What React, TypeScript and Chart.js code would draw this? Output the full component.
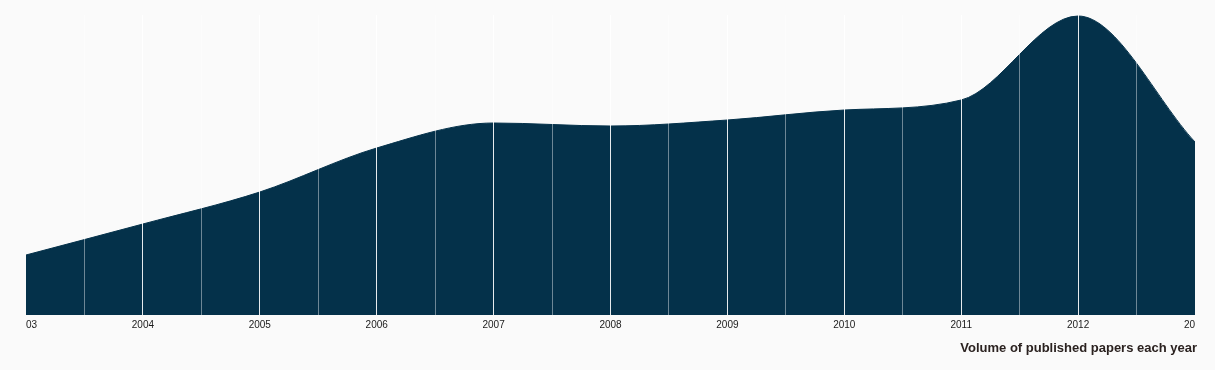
import React, { useEffect, useRef } from "react";
import { Chart, registerables } from "chart.js";

Chart.register(...registerables);

const years = [2003, 2004, 2005, 2006, 2007, 2008, 2009, 2010, 2011, 2012, 2013];
const papers = [60, 91, 123, 167, 192, 189, 195, 205, 215, 299, 173];
const tickYears = [2003, 2004, 2005, 2006, 2007, 2008, 2009, 2010, 2011, 2012, 2013];
const title = "Volume of published papers each year";

const clippedLabels = {
  id: "clippedLabels",
  afterDraw(chart: any) {
    const { ctx, chartArea } = chart;
    const xs = chart.scales.x;
    ctx.save();
    ctx.beginPath();
    ctx.rect(chartArea.left, 0, chartArea.right - chartArea.left, chart.height);
    ctx.clip();
    ctx.font = "10px 'Liberation Sans', Arial, sans-serif";
    ctx.fillStyle = "#1a1a1a";
    ctx.textAlign = "center";
    ctx.textBaseline = "middle";
    tickYears.forEach((y) => {
      ctx.fillText(String(y), xs.getPixelForValue(y), chartArea.bottom + 10);
    });
    ctx.restore();
    ctx.save();
    ctx.font = "bold 13px 'Liberation Sans', Arial, sans-serif";
    ctx.fillStyle = "#2b2220";
    ctx.textAlign = "right";
    ctx.textBaseline = "alphabetic";
    ctx.fillText(title, 1197, 352);
    ctx.restore();
  },
};

export default function App() {
  const ref = useRef<HTMLCanvasElement>(null);
  useEffect(() => {
    document.body.style.margin = "0";
    document.body.style.background = "#fafafa";
    const chart = new Chart(ref.current!, {
      type: "line",
      data: {
        datasets: [
          {
            data: years.map((y, i) => ({ x: y, y: papers[i] })),
            fill: "origin",
            backgroundColor: "#04314a",
            borderColor: "#04314a",
            borderWidth: 1,
            pointRadius: 0,
            cubicInterpolationMode: "monotone",
          },
        ],
      },
      options: {
        animation: false,
        responsive: false,
        events: [],
        layout: { padding: { left: 26, right: 20, top: 15, bottom: 55 } },
        plugins: { legend: { display: false }, tooltip: { enabled: false } },
        scales: {
          x: {
            type: "linear",
            min: 2003,
            max: 2013,
            border: { display: false },
            ticks: { display: false, stepSize: 0.5 },
            grid: {
              z: 1,
              drawTicks: false,
              lineWidth: 1,
              color: (c: any) => {
                const v = c.tick?.value;
                if (v === 2003 || v === 2013) return "rgba(0,0,0,0)";
                return Number.isInteger(v) ? "rgba(255,255,255,0.9)" : "rgba(255,255,255,0.42)";
              },
            },
          },
          y: {
            display: false,
            min: 0,
            max: 300,
          },
        },
      },
      plugins: [clippedLabels],
    });
    return () => chart.destroy();
  }, []);
  return (
    <div style={{ width: 1215, height: 370, background: "#fafafa" }}>
      <canvas ref={ref} width={1215} height={370} />
    </div>
  );
}
